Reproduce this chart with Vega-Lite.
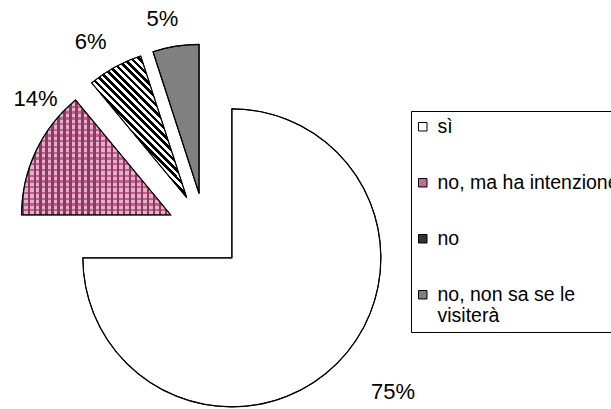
{
  "$schema": "https://vega.github.io/schema/vega-lite/v6.json",
  "width": 611,
  "height": 409,
  "autosize": "none",
  "padding": 0,
  "background": "white",
  "config": {"view": {"stroke": null}, "font": "Liberation Sans"},
  "data": {
    "values": [
      {"answer": "sì", "share": 0.75, "ord": 1},
      {"answer": "no, ma ha intenzione", "share": 0.14, "ord": 2},
      {"answer": "no", "share": 0.06, "ord": 3},
      {"answer": "no, non sa se le visiterà", "share": 0.05, "ord": 4}
    ]
  },
  "encoding": {
    "theta": {"field": "share", "type": "quantitative", "stack": true},
    "order": {"field": "ord", "type": "quantitative"}
  },
  "layer": [
    {
      "mark": {
        "type": "arc", "x": 205, "y": 231, "outerRadius": 149, "strokeWidth": 1,
        "xOffset": {"expr": "38*sin(scale('theta', (datum.share_start + datum.share_end)/2))"},
        "yOffset": {"expr": "-38*cos(scale('theta', (datum.share_start + datum.share_end)/2))"}
      },
      "encoding": {
        "color": {
          "field": "answer", "type": "nominal",
          "scale": {
            "domain": ["sì", "no, ma ha intenzione", "no", "no, non sa se le visiterà"],
            "range": ["#ffffff", "#bf6f97", "#333333", "#808080"]
          },
          "legend": {
            "orient": "none", "legendX": 411, "legendY": 111, "title": null,
            "strokeColor": "black", "fillColor": "white", "padding": 6,
            "symbolType": "square", "symbolSize": 72, "symbolOffset": -4, "symbolStrokeWidth": 1,
            "labelFontSize": 19.5, "labelFont": "Liberation Sans", "labelColor": "black",
            "labelOffset": 5, "rowPadding": 35, "labelLimit": 400,
            "labelExpr": "datum.label === 'no, non sa se le visiterà' ? ['no, non sa se le', 'visiterà'] : datum.label"
          }
        },
        "stroke": {
          "field": "answer", "type": "nominal",
          "scale": {
            "domain": ["sì", "no, ma ha intenzione", "no", "no, non sa se le visiterà"],
            "range": ["#000000", "#000000", "#000000", "#000000"]
          },
          "legend": {"title": null}
        }
      }
    },
    {
      "mark": {
        "type": "arc", "x": 205, "y": 231, "outerRadius": 149, "stroke": null,
        "xOffset": {"expr": "38*sin(scale('theta', (datum.share_start + datum.share_end)/2))"},
        "yOffset": {"expr": "-38*cos(scale('theta', (datum.share_start + datum.share_end)/2))"}
      },
      "encoding": {
        "fill": {
          "condition": [
            {"test": "datum.answer === 'no'", "value": {"gradient": "linear", "x1": 0, "y1": 1, "x2": 0.772, "y2": -0.15, "stops": [
              {"offset": 0, "color": "#000"}, {"offset": 0.015625, "color": "#000"}, {"offset": 0.015625, "color": "#fff"}, {"offset": 0.03125, "color": "#fff"},
              {"offset": 0.03125, "color": "#000"}, {"offset": 0.046875, "color": "#000"}, {"offset": 0.046875, "color": "#fff"}, {"offset": 0.0625, "color": "#fff"},
              {"offset": 0.0625, "color": "#000"}, {"offset": 0.078125, "color": "#000"}, {"offset": 0.078125, "color": "#fff"}, {"offset": 0.09375, "color": "#fff"},
              {"offset": 0.09375, "color": "#000"}, {"offset": 0.109375, "color": "#000"}, {"offset": 0.109375, "color": "#fff"}, {"offset": 0.125, "color": "#fff"},
              {"offset": 0.125, "color": "#000"}, {"offset": 0.140625, "color": "#000"}, {"offset": 0.140625, "color": "#fff"}, {"offset": 0.15625, "color": "#fff"},
              {"offset": 0.15625, "color": "#000"}, {"offset": 0.171875, "color": "#000"}, {"offset": 0.171875, "color": "#fff"}, {"offset": 0.1875, "color": "#fff"},
              {"offset": 0.1875, "color": "#000"}, {"offset": 0.203125, "color": "#000"}, {"offset": 0.203125, "color": "#fff"}, {"offset": 0.21875, "color": "#fff"},
              {"offset": 0.21875, "color": "#000"}, {"offset": 0.234375, "color": "#000"}, {"offset": 0.234375, "color": "#fff"}, {"offset": 0.25, "color": "#fff"},
              {"offset": 0.25, "color": "#000"}, {"offset": 0.265625, "color": "#000"}, {"offset": 0.265625, "color": "#fff"}, {"offset": 0.28125, "color": "#fff"},
              {"offset": 0.28125, "color": "#000"}, {"offset": 0.296875, "color": "#000"}, {"offset": 0.296875, "color": "#fff"}, {"offset": 0.3125, "color": "#fff"},
              {"offset": 0.3125, "color": "#000"}, {"offset": 0.328125, "color": "#000"}, {"offset": 0.328125, "color": "#fff"}, {"offset": 0.34375, "color": "#fff"},
              {"offset": 0.34375, "color": "#000"}, {"offset": 0.359375, "color": "#000"}, {"offset": 0.359375, "color": "#fff"}, {"offset": 0.375, "color": "#fff"},
              {"offset": 0.375, "color": "#000"}, {"offset": 0.390625, "color": "#000"}, {"offset": 0.390625, "color": "#fff"}, {"offset": 0.40625, "color": "#fff"},
              {"offset": 0.40625, "color": "#000"}, {"offset": 0.421875, "color": "#000"}, {"offset": 0.421875, "color": "#fff"}, {"offset": 0.4375, "color": "#fff"},
              {"offset": 0.4375, "color": "#000"}, {"offset": 0.453125, "color": "#000"}, {"offset": 0.453125, "color": "#fff"}, {"offset": 0.46875, "color": "#fff"},
              {"offset": 0.46875, "color": "#000"}, {"offset": 0.484375, "color": "#000"}, {"offset": 0.484375, "color": "#fff"}, {"offset": 0.5, "color": "#fff"},
              {"offset": 0.5, "color": "#000"}, {"offset": 0.515625, "color": "#000"}, {"offset": 0.515625, "color": "#fff"}, {"offset": 0.53125, "color": "#fff"},
              {"offset": 0.53125, "color": "#000"}, {"offset": 0.546875, "color": "#000"}, {"offset": 0.546875, "color": "#fff"}, {"offset": 0.5625, "color": "#fff"},
              {"offset": 0.5625, "color": "#000"}, {"offset": 0.578125, "color": "#000"}, {"offset": 0.578125, "color": "#fff"}, {"offset": 0.59375, "color": "#fff"},
              {"offset": 0.59375, "color": "#000"}, {"offset": 0.609375, "color": "#000"}, {"offset": 0.609375, "color": "#fff"}, {"offset": 0.625, "color": "#fff"},
              {"offset": 0.625, "color": "#000"}, {"offset": 0.640625, "color": "#000"}, {"offset": 0.640625, "color": "#fff"}, {"offset": 0.65625, "color": "#fff"},
              {"offset": 0.65625, "color": "#000"}, {"offset": 0.671875, "color": "#000"}, {"offset": 0.671875, "color": "#fff"}, {"offset": 0.6875, "color": "#fff"},
              {"offset": 0.6875, "color": "#000"}, {"offset": 0.703125, "color": "#000"}, {"offset": 0.703125, "color": "#fff"}, {"offset": 0.71875, "color": "#fff"},
              {"offset": 0.71875, "color": "#000"}, {"offset": 0.734375, "color": "#000"}, {"offset": 0.734375, "color": "#fff"}, {"offset": 0.75, "color": "#fff"},
              {"offset": 0.75, "color": "#000"}, {"offset": 0.765625, "color": "#000"}, {"offset": 0.765625, "color": "#fff"}, {"offset": 0.78125, "color": "#fff"},
              {"offset": 0.78125, "color": "#000"}, {"offset": 0.796875, "color": "#000"}, {"offset": 0.796875, "color": "#fff"}, {"offset": 0.8125, "color": "#fff"},
              {"offset": 0.8125, "color": "#000"}, {"offset": 0.828125, "color": "#000"}, {"offset": 0.828125, "color": "#fff"}, {"offset": 0.84375, "color": "#fff"},
              {"offset": 0.84375, "color": "#000"}, {"offset": 0.859375, "color": "#000"}, {"offset": 0.859375, "color": "#fff"}, {"offset": 0.875, "color": "#fff"},
              {"offset": 0.875, "color": "#000"}, {"offset": 0.890625, "color": "#000"}, {"offset": 0.890625, "color": "#fff"}, {"offset": 0.90625, "color": "#fff"},
              {"offset": 0.90625, "color": "#000"}, {"offset": 0.921875, "color": "#000"}, {"offset": 0.921875, "color": "#fff"}, {"offset": 0.9375, "color": "#fff"},
              {"offset": 0.9375, "color": "#000"}, {"offset": 0.953125, "color": "#000"}, {"offset": 0.953125, "color": "#fff"}, {"offset": 0.96875, "color": "#fff"},
              {"offset": 0.96875, "color": "#000"}, {"offset": 0.984375, "color": "#000"}, {"offset": 0.984375, "color": "#fff"}, {"offset": 1, "color": "#fff"}
            ]}},
            {"test": "datum.answer === 'no, ma ha intenzione'", "value": {"gradient": "linear", "x1": 0, "y1": 0, "x2": 1, "y2": 0, "stops": [
              {"offset": 0, "color": "#993366"}, {"offset": 0.016, "color": "#993366"}, {"offset": 0.016, "color": "#e0b3c9"}, {"offset": 0.04, "color": "#e0b3c9"},
              {"offset": 0.04, "color": "#993366"}, {"offset": 0.056, "color": "#993366"}, {"offset": 0.056, "color": "#e0b3c9"}, {"offset": 0.08, "color": "#e0b3c9"},
              {"offset": 0.08, "color": "#993366"}, {"offset": 0.096, "color": "#993366"}, {"offset": 0.096, "color": "#e0b3c9"}, {"offset": 0.12, "color": "#e0b3c9"},
              {"offset": 0.12, "color": "#993366"}, {"offset": 0.136, "color": "#993366"}, {"offset": 0.136, "color": "#e0b3c9"}, {"offset": 0.16, "color": "#e0b3c9"},
              {"offset": 0.16, "color": "#993366"}, {"offset": 0.176, "color": "#993366"}, {"offset": 0.176, "color": "#e0b3c9"}, {"offset": 0.2, "color": "#e0b3c9"},
              {"offset": 0.2, "color": "#993366"}, {"offset": 0.216, "color": "#993366"}, {"offset": 0.216, "color": "#e0b3c9"}, {"offset": 0.24, "color": "#e0b3c9"},
              {"offset": 0.24, "color": "#993366"}, {"offset": 0.256, "color": "#993366"}, {"offset": 0.256, "color": "#e0b3c9"}, {"offset": 0.28, "color": "#e0b3c9"},
              {"offset": 0.28, "color": "#993366"}, {"offset": 0.296, "color": "#993366"}, {"offset": 0.296, "color": "#e0b3c9"}, {"offset": 0.32, "color": "#e0b3c9"},
              {"offset": 0.32, "color": "#993366"}, {"offset": 0.336, "color": "#993366"}, {"offset": 0.336, "color": "#e0b3c9"}, {"offset": 0.36, "color": "#e0b3c9"},
              {"offset": 0.36, "color": "#993366"}, {"offset": 0.376, "color": "#993366"}, {"offset": 0.376, "color": "#e0b3c9"}, {"offset": 0.4, "color": "#e0b3c9"},
              {"offset": 0.4, "color": "#993366"}, {"offset": 0.416, "color": "#993366"}, {"offset": 0.416, "color": "#e0b3c9"}, {"offset": 0.44, "color": "#e0b3c9"},
              {"offset": 0.44, "color": "#993366"}, {"offset": 0.456, "color": "#993366"}, {"offset": 0.456, "color": "#e0b3c9"}, {"offset": 0.48, "color": "#e0b3c9"},
              {"offset": 0.48, "color": "#993366"}, {"offset": 0.496, "color": "#993366"}, {"offset": 0.496, "color": "#e0b3c9"}, {"offset": 0.52, "color": "#e0b3c9"},
              {"offset": 0.52, "color": "#993366"}, {"offset": 0.536, "color": "#993366"}, {"offset": 0.536, "color": "#e0b3c9"}, {"offset": 0.56, "color": "#e0b3c9"},
              {"offset": 0.56, "color": "#993366"}, {"offset": 0.576, "color": "#993366"}, {"offset": 0.576, "color": "#e0b3c9"}, {"offset": 0.6, "color": "#e0b3c9"},
              {"offset": 0.6, "color": "#993366"}, {"offset": 0.616, "color": "#993366"}, {"offset": 0.616, "color": "#e0b3c9"}, {"offset": 0.64, "color": "#e0b3c9"},
              {"offset": 0.64, "color": "#993366"}, {"offset": 0.656, "color": "#993366"}, {"offset": 0.656, "color": "#e0b3c9"}, {"offset": 0.68, "color": "#e0b3c9"},
              {"offset": 0.68, "color": "#993366"}, {"offset": 0.696, "color": "#993366"}, {"offset": 0.696, "color": "#e0b3c9"}, {"offset": 0.72, "color": "#e0b3c9"},
              {"offset": 0.72, "color": "#993366"}, {"offset": 0.736, "color": "#993366"}, {"offset": 0.736, "color": "#e0b3c9"}, {"offset": 0.76, "color": "#e0b3c9"},
              {"offset": 0.76, "color": "#993366"}, {"offset": 0.776, "color": "#993366"}, {"offset": 0.776, "color": "#e0b3c9"}, {"offset": 0.8, "color": "#e0b3c9"},
              {"offset": 0.8, "color": "#993366"}, {"offset": 0.816, "color": "#993366"}, {"offset": 0.816, "color": "#e0b3c9"}, {"offset": 0.84, "color": "#e0b3c9"},
              {"offset": 0.84, "color": "#993366"}, {"offset": 0.856, "color": "#993366"}, {"offset": 0.856, "color": "#e0b3c9"}, {"offset": 0.88, "color": "#e0b3c9"},
              {"offset": 0.88, "color": "#993366"}, {"offset": 0.896, "color": "#993366"}, {"offset": 0.896, "color": "#e0b3c9"}, {"offset": 0.92, "color": "#e0b3c9"},
              {"offset": 0.92, "color": "#993366"}, {"offset": 0.936, "color": "#993366"}, {"offset": 0.936, "color": "#e0b3c9"}, {"offset": 0.96, "color": "#e0b3c9"},
              {"offset": 0.96, "color": "#993366"}, {"offset": 0.976, "color": "#993366"}, {"offset": 0.976, "color": "#e0b3c9"}, {"offset": 1, "color": "#e0b3c9"}
            ]}}
          ],
          "value": "transparent"
        }
      }
    },
    {
      "mark": {
        "type": "arc", "x": 205, "y": 231, "outerRadius": 149, "stroke": "black", "strokeWidth": 1.2,
        "xOffset": {"expr": "38*sin(scale('theta', (datum.share_start + datum.share_end)/2))"},
        "yOffset": {"expr": "-38*cos(scale('theta', (datum.share_start + datum.share_end)/2))"}
      },
      "encoding": {
        "fill": {
          "condition": {"test": "datum.answer === 'no, ma ha intenzione'", "value": {"gradient": "linear", "x1": 0, "y1": 0, "x2": 0, "y2": 1, "stops": [
            {"offset": 0, "color": "rgba(153,51,102,0.6)"}, {"offset": 0.02, "color": "rgba(153,51,102,0.6)"}, {"offset": 0.02, "color": "rgba(153,51,102,0)"}, {"offset": 0.05, "color": "rgba(153,51,102,0)"},
            {"offset": 0.05, "color": "rgba(153,51,102,0.6)"}, {"offset": 0.07, "color": "rgba(153,51,102,0.6)"}, {"offset": 0.07, "color": "rgba(153,51,102,0)"}, {"offset": 0.1, "color": "rgba(153,51,102,0)"},
            {"offset": 0.1, "color": "rgba(153,51,102,0.6)"}, {"offset": 0.12, "color": "rgba(153,51,102,0.6)"}, {"offset": 0.12, "color": "rgba(153,51,102,0)"}, {"offset": 0.15, "color": "rgba(153,51,102,0)"},
            {"offset": 0.15, "color": "rgba(153,51,102,0.6)"}, {"offset": 0.17, "color": "rgba(153,51,102,0.6)"}, {"offset": 0.17, "color": "rgba(153,51,102,0)"}, {"offset": 0.2, "color": "rgba(153,51,102,0)"},
            {"offset": 0.2, "color": "rgba(153,51,102,0.6)"}, {"offset": 0.22, "color": "rgba(153,51,102,0.6)"}, {"offset": 0.22, "color": "rgba(153,51,102,0)"}, {"offset": 0.25, "color": "rgba(153,51,102,0)"},
            {"offset": 0.25, "color": "rgba(153,51,102,0.6)"}, {"offset": 0.27, "color": "rgba(153,51,102,0.6)"}, {"offset": 0.27, "color": "rgba(153,51,102,0)"}, {"offset": 0.3, "color": "rgba(153,51,102,0)"},
            {"offset": 0.3, "color": "rgba(153,51,102,0.6)"}, {"offset": 0.32, "color": "rgba(153,51,102,0.6)"}, {"offset": 0.32, "color": "rgba(153,51,102,0)"}, {"offset": 0.35, "color": "rgba(153,51,102,0)"},
            {"offset": 0.35, "color": "rgba(153,51,102,0.6)"}, {"offset": 0.37, "color": "rgba(153,51,102,0.6)"}, {"offset": 0.37, "color": "rgba(153,51,102,0)"}, {"offset": 0.4, "color": "rgba(153,51,102,0)"},
            {"offset": 0.4, "color": "rgba(153,51,102,0.6)"}, {"offset": 0.42, "color": "rgba(153,51,102,0.6)"}, {"offset": 0.42, "color": "rgba(153,51,102,0)"}, {"offset": 0.45, "color": "rgba(153,51,102,0)"},
            {"offset": 0.45, "color": "rgba(153,51,102,0.6)"}, {"offset": 0.47, "color": "rgba(153,51,102,0.6)"}, {"offset": 0.47, "color": "rgba(153,51,102,0)"}, {"offset": 0.5, "color": "rgba(153,51,102,0)"},
            {"offset": 0.5, "color": "rgba(153,51,102,0.6)"}, {"offset": 0.52, "color": "rgba(153,51,102,0.6)"}, {"offset": 0.52, "color": "rgba(153,51,102,0)"}, {"offset": 0.55, "color": "rgba(153,51,102,0)"},
            {"offset": 0.55, "color": "rgba(153,51,102,0.6)"}, {"offset": 0.57, "color": "rgba(153,51,102,0.6)"}, {"offset": 0.57, "color": "rgba(153,51,102,0)"}, {"offset": 0.6, "color": "rgba(153,51,102,0)"},
            {"offset": 0.6, "color": "rgba(153,51,102,0.6)"}, {"offset": 0.62, "color": "rgba(153,51,102,0.6)"}, {"offset": 0.62, "color": "rgba(153,51,102,0)"}, {"offset": 0.65, "color": "rgba(153,51,102,0)"},
            {"offset": 0.65, "color": "rgba(153,51,102,0.6)"}, {"offset": 0.67, "color": "rgba(153,51,102,0.6)"}, {"offset": 0.67, "color": "rgba(153,51,102,0)"}, {"offset": 0.7, "color": "rgba(153,51,102,0)"},
            {"offset": 0.7, "color": "rgba(153,51,102,0.6)"}, {"offset": 0.72, "color": "rgba(153,51,102,0.6)"}, {"offset": 0.72, "color": "rgba(153,51,102,0)"}, {"offset": 0.75, "color": "rgba(153,51,102,0)"},
            {"offset": 0.75, "color": "rgba(153,51,102,0.6)"}, {"offset": 0.77, "color": "rgba(153,51,102,0.6)"}, {"offset": 0.77, "color": "rgba(153,51,102,0)"}, {"offset": 0.8, "color": "rgba(153,51,102,0)"},
            {"offset": 0.8, "color": "rgba(153,51,102,0.6)"}, {"offset": 0.82, "color": "rgba(153,51,102,0.6)"}, {"offset": 0.82, "color": "rgba(153,51,102,0)"}, {"offset": 0.85, "color": "rgba(153,51,102,0)"},
            {"offset": 0.85, "color": "rgba(153,51,102,0.6)"}, {"offset": 0.87, "color": "rgba(153,51,102,0.6)"}, {"offset": 0.87, "color": "rgba(153,51,102,0)"}, {"offset": 0.9, "color": "rgba(153,51,102,0)"},
            {"offset": 0.9, "color": "rgba(153,51,102,0.6)"}, {"offset": 0.92, "color": "rgba(153,51,102,0.6)"}, {"offset": 0.92, "color": "rgba(153,51,102,0)"}, {"offset": 0.95, "color": "rgba(153,51,102,0)"},
            {"offset": 0.95, "color": "rgba(153,51,102,0.6)"}, {"offset": 0.97, "color": "rgba(153,51,102,0.6)"}, {"offset": 0.97, "color": "rgba(153,51,102,0)"}, {"offset": 1, "color": "rgba(153,51,102,0)"}
          ]}},
          "value": "transparent"
        }
      }
    },
    {
      "mark": {
        "type": "text", "x": 205, "y": 231, "fontSize": 22, "font": "Liberation Sans", "color": "black",
        "align": "center", "baseline": "middle",
        "radius": {"expr": "datum.answer === 'sì' ? 210 : datum.answer === 'no' ? 183 : 178"},
        "thetaOffset": {"expr": "datum.answer === 'sì' ? -0.09 : datum.answer === 'no, ma ha intenzione' ? 0.27 : -0.05"},
        "xOffset": {"expr": "38*sin(scale('theta', (datum.share_start + datum.share_end)/2))"},
        "yOffset": {"expr": "-38*cos(scale('theta', (datum.share_start + datum.share_end)/2))"}
      },
      "encoding": {
        "text": {"field": "share", "type": "quantitative", "format": ".0%"}
      }
    }
  ]
}
